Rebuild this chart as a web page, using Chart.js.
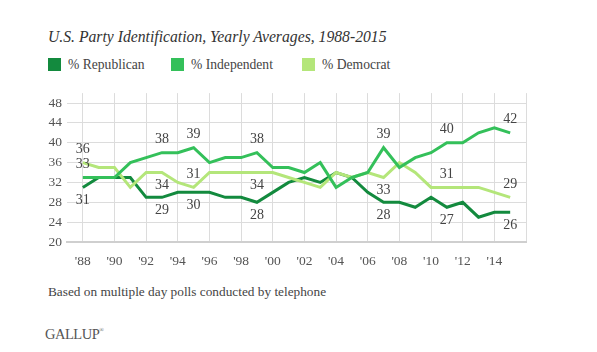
<!DOCTYPE html>
<html>
<head>
<meta charset="utf-8">
<script src="https://cdn.jsdelivr.net/npm/chart.js@4"></script>
<style>
  body { margin: 0; width: 597px; height: 352px; background: #fff; position: relative; overflow: hidden; font-family: 'Liberation Serif', serif; color: #444; }
  #title { position: absolute; left: 48px; top: 28px; font-style: italic; font-size: 15.7px; color: #333; white-space: nowrap; }
  #legend { position: absolute; left: 48px; top: 57px; font-size: 13.6px; white-space: nowrap; }
  #legend span.item { position: absolute; top: 0; white-space: nowrap; }
  #legend i { display: inline-block; width: 13px; height: 13px; vertical-align: -2px; margin-right: 7px; }
  #wrap { position: absolute; left: 0; top: 80px; width: 597px; height: 200px; }
  #note { position: absolute; left: 48px; top: 284px; font-size: 13.3px; white-space: nowrap; }
  #logo { position: absolute; left: 45px; top: 326px; font-size: 14.5px; color: #555; letter-spacing: -0.5px; }
  #logo sup { font-size: 6px; vertical-align: 7px; }
</style>
</head>
<body>
<div id="title">U.S. Party Identification, Yearly Averages, 1988-2015</div>
<div id="legend"></div>
<div id="wrap"><canvas id="chart"></canvas></div>
<div id="note">Based on multiple day polls conducted by telephone</div>
<div id="logo">GALLUP<sup>®</sup></div>
<script>
const years = [1988, 1989, 1990, 1991, 1992, 1993, 1994, 1995, 1996, 1997, 1998, 1999, 2000, 2001,
  2002, 2003, 2004, 2005, 2006, 2007, 2008, 2009, 2010, 2011, 2012, 2013, 2014, 2015];

const republican  = [31, 33, 33, 33, 29, 29, 30, 30, 30, 29, 29, 28, 30, 32,
  33, 32, 34, 33, 30, 28, 28, 27, 29, 27, 28, 25, 26, 26];
const independent = [33, 33, 33, 36, 37, 38, 38, 39, 36, 37, 37, 38, 35, 35,
  34, 36, 31, 33, 34, 39, 35, 37, 38, 40, 40, 42, 43, 42];
const democrat    = [36, 35, 35, 31, 34, 34, 32, 31, 34, 34, 34, 34, 34, 33,
  32, 31, 34, 33, 34, 33, 36, 34, 31, 31, 31, 31, 30, 29];

const seriesNames  = ['% Republican', '% Independent', '% Democrat'];
const seriesColors = ['#138a3e', '#34c05a', '#b4e67a'];
const legendX = [0, 123, 254];

// which points carry a value label, and on which side
const labelsRep = [[1988, 'below'], [1993, 'below'], [1995, 'below'], [1999, 'below'], [2007, 'below'], [2011, 'below'], [2015, 'below']];
const labelsInd = [[1988, 'above'], [1993, 'above'], [1995, 'above'], [1999, 'above'], [2007, 'above'], [2011, 'above'], [2015, 'above']];
const labelsDem = [[1988, 'above'], [1993, 'below'], [1995, 'above'], [1999, 'below'], [2007, 'below'], [2011, 'above'], [2015, 'above']];

const yTicks = [20, 24, 28, 32, 36, 40, 44, 48];
const xTicks = [1988, 1990, 1992, 1994, 1996, 1998, 2000, 2002, 2004, 2006, 2008, 2010, 2012, 2014, 2016];

// legend
const leg = document.getElementById('legend');
seriesNames.forEach((n, i) => {
  const s = document.createElement('span');
  s.className = 'item';
  s.style.left = legendX[i] + 'px';
  s.innerHTML = `<i style="background:${seriesColors[i]}"></i>${n}`;
  leg.appendChild(s);
});

const pts = arr => arr.map((v, i) => ({ x: years[i], y: v }));

const valueLabels = {
  id: 'valueLabels',
  afterDatasetsDraw(chart) {
    const ctx = chart.ctx;
    const specs = [labelsRep, labelsInd, labelsDem];
    ctx.save();
    ctx.font = "14px 'Liberation Serif'";
    ctx.fillStyle = '#444';
    ctx.textAlign = 'center';
    ctx.textBaseline = 'middle';
    specs.forEach((list, di) => {
      const meta = chart.getDatasetMeta(di);
      const data = chart.data.datasets[di].data;
      list.forEach(([yr, side]) => {
        const idx = years.indexOf(yr);
        const p = meta.data[idx];
        ctx.fillText(String(data[idx].y), p.x, p.y + (side === 'above' ? -13 : 13));
      });
    });
    ctx.restore();
  }
};

const ds = (i, arr, order) => ({
  label: seriesNames[i],
  data: pts(arr),
  borderColor: seriesColors[i],
  backgroundColor: seriesColors[i],
  borderWidth: 3,
  pointRadius: 0,
  tension: 0,
  order
});

new Chart(document.getElementById('chart'), {
  type: 'line',
  data: {
    datasets: [ds(0, republican, 2), ds(1, independent, 0), ds(2, democrat, 1)]
  },
  options: {
    responsive: true,
    maintainAspectRatio: false,
    animation: false,
    layout: { padding: { left: 0, right: 71, top: 12, bottom: 0 } },
    plugins: { legend: { display: false }, tooltip: { enabled: false } },
    scales: {
      x: {
        type: 'linear',
        min: 1987,
        max: 2016,
        afterBuildTicks: s => { s.ticks = xTicks.map(v => ({ value: v })); },
        afterFit: s => { s.height = 38; },
        grid: { color: '#dcdcdc', drawTicks: false },
        border: { color: '#cfcfcf', width: 2 },
        ticks: {
          padding: 11,
          color: '#555',
          font: { family: 'Liberation Serif', size: 13.5 },
          maxRotation: 0,
          autoSkip: false,
          callback: v => v === 2016 ? '' : "'" + String(v).slice(2)
        }
      },
      y: {
        min: 20,
        max: 50,
        afterBuildTicks: s => { s.ticks = yTicks.map(v => ({ value: v })); },
        afterFit: s => { s.width = 67; },
        grid: { color: '#dcdcdc', drawTicks: false },
        border: { display: false },
        ticks: {
          padding: 5,
          color: '#555',
          font: { family: 'Liberation Serif', size: 13.5 }
        }
      }
    }
  },
  plugins: [valueLabels]
});
</script>
</body>
</html>
